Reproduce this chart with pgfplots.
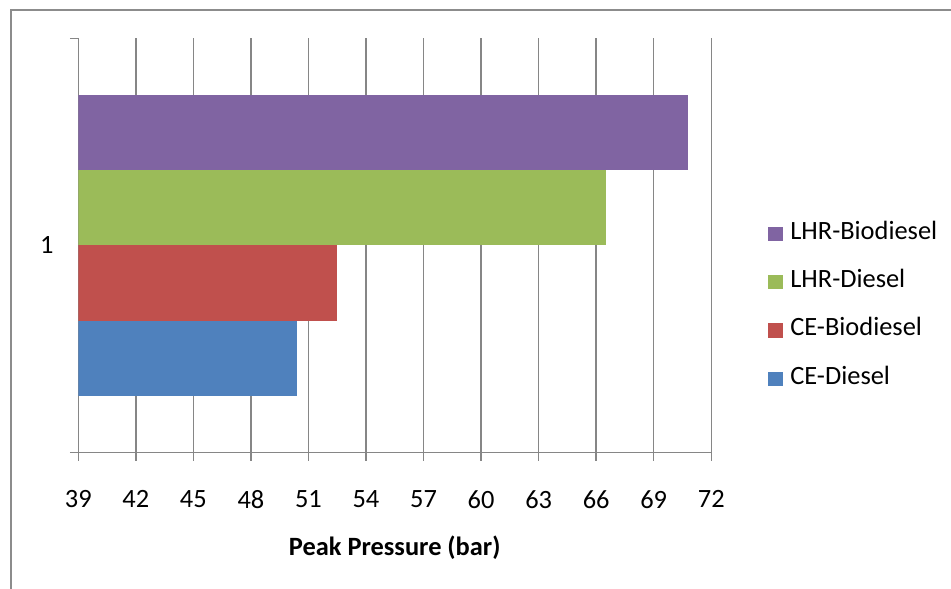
\documentclass[border=0pt]{standalone}
\usepackage{fontspec}
\setmainfont{Carlito}
\usepackage{pgfplots}
\pgfplotsset{compat=1.18}

\definecolor{sPurple}{HTML}{8064A2}
\definecolor{sGreen}{HTML}{9BBB59}
\definecolor{sRed}{HTML}{C0504D}
\definecolor{sBlue}{HTML}{4F81BD}
\definecolor{lineGray}{HTML}{868686}
\definecolor{frameGray}{HTML}{8C8C8C}

\newcommand{\chartfont}{\fontsize{19.8pt}{24pt}\selectfont}

\begin{document}
\begin{tikzpicture}
\useasboundingbox (0,0) rectangle (713.25pt,441.75pt);
% outer chart frame
\draw[frameGray, line width=1.5pt] (8.25pt,-2pt) -- (8.25pt,434.25pt) -- (716pt,434.25pt);
\begin{axis}[
  at={(58.7pt,102.5pt)}, anchor=origin,
  scale only axis,
  width=474.75pt, height=310.5pt,
  xbar=0pt, bar width=0.1818,
  xmin=39, xmax=72,
  ymin=0.5, ymax=1.5,
  xtick={39,42,...,72},
  % category boundaries carry the ticks, the category name sits between them
  ytick={0.5,1.5}, yticklabels={,},
  extra y ticks={1}, extra y tick labels={1},
  extra y tick style={major tick length=0pt},
  axis lines*=left,
  axis line style={lineGray, line width=1.1pt, -},
  tick align=outside,
  major tick length=6.3pt,
  tick style={lineGray, line width=1.1pt},
  xmajorgrids, grid style={lineGray, line width=1.1pt},
  font=\chartfont,
  /pgf/number format/assume math mode=true,
  xticklabel style={font=\chartfont, yshift=-18.7pt},
  yticklabel style={font=\chartfont, xshift=-15pt},
  xlabel={\bfseries Peak Pressure (bar)},
  xlabel style={font=\chartfont, at={(axis description cs:0.5,0)}, anchor=center, yshift=-71.8pt},
  legend image code/.code={\fill[#1] (0pt,-5.4pt) rectangle (10.8pt,5.4pt);},
  reverse legend,
  legend cell align=left,
  legend style={
    at={(axis description cs:1.0896,0.557)}, anchor=north west,
    draw=none, fill=none, inner sep=0pt, row sep=18.2pt,
    font=\chartfont,
    nodes={inner sep=0pt, text height=13pt, text depth=5pt},
    /tikz/every odd column/.append style={column sep=5.8pt},
  },
]
\addplot[fill=sBlue, draw=none] coordinates {(50.4,1)};
\addplot[fill=sRed, draw=none] coordinates {(52.5,1)};
\addplot[fill=sGreen, draw=none] coordinates {(66.5,1)};
\addplot[fill=sPurple, draw=none] coordinates {(70.8,1)};
\legend{CE-Diesel, CE-Biodiesel, LHR-Diesel, LHR-Biodiesel}
\end{axis}
\end{tikzpicture}
\end{document}
